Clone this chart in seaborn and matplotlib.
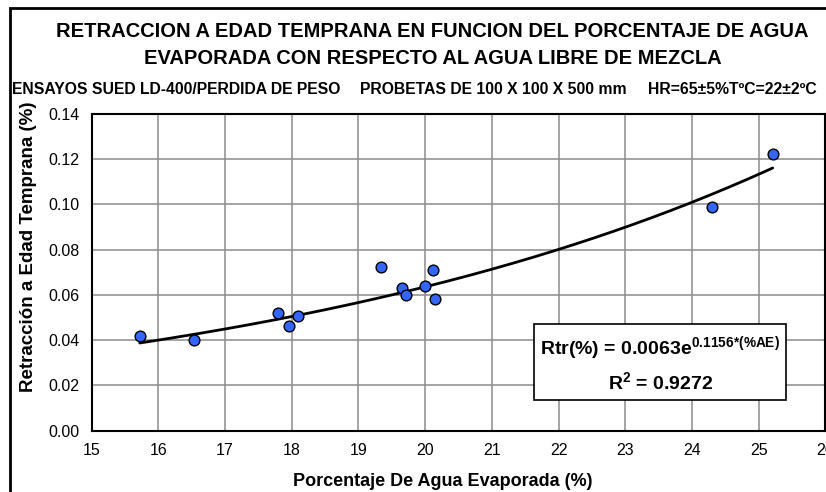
# Retraccion a edad temprana vs porcentaje de agua evaporada

import numpy as np
import pandas as pd
import matplotlib
matplotlib.use('Agg')
import matplotlib.pyplot as plt
import seaborn as sns

sns.set_style('white')
plt.rcParams['font.family'] = ['Liberation Sans', 'DejaVu Sans']
plt.rcParams['mathtext.fontset'] = 'custom'
plt.rcParams['mathtext.rm'] = 'Liberation Sans'
plt.rcParams['mathtext.bf'] = 'Liberation Sans:bold'
plt.rcParams['text.color'] = 'black'
plt.rcParams['axes.labelcolor'] = 'black'
plt.rcParams['xtick.color'] = 'black'
plt.rcParams['ytick.color'] = 'black'

# Datos
agua_evaporada = [15.72, 16.54, 17.80, 17.96, 18.10, 19.34, 19.65, 19.71,
                  19.99, 20.11, 20.14, 24.30, 25.21]
retraccion = [0.0419, 0.0403, 0.0522, 0.0462, 0.0509, 0.0725, 0.0630, 0.0599,
              0.0641, 0.0709, 0.0581, 0.0989, 0.1224]

# Linea de tendencia exponencial (coeficientes del grafico)
coef_a = 0.0063
coef_b = 0.1156

x_ticks = [15, 16, 17, 18, 19, 20, 21, 22, 23, 24, 25, 26]
y_ticks = [0.00, 0.02, 0.04, 0.06, 0.08, 0.10, 0.12, 0.14]

df = pd.DataFrame({'ae': agua_evaporada, 'rtr': retraccion})
x_fit = np.linspace(min(agua_evaporada), max(agua_evaporada), 200)
df_fit = pd.DataFrame({'ae': x_fit, 'rtr': coef_a * np.exp(coef_b * x_fit)})

fig = plt.figure(figsize=(8.26, 4.92), dpi=100)
ax = fig.add_axes([0.111, 0.1246, 0.8883, 0.6437])

sns.lineplot(data=df_fit, x='ae', y='rtr', ax=ax, color='black', linewidth=2, zorder=3)
sns.scatterplot(data=df, x='ae', y='rtr', ax=ax, s=60, color='#3366FF',
                edgecolor='black', linewidth=1, zorder=4)

ax.set_xlim(15, 26)
ax.set_ylim(0, 0.14)
ax.set_xticks(x_ticks)
ax.set_yticks(y_ticks)
ax.set_yticklabels([f'{v:.2f}' for v in y_ticks])
ax.grid(True, color='#8c8c8c', linewidth=1.1)
ax.set_axisbelow(True)
for s in ax.spines.values():
    s.set_color('black')
    s.set_linewidth(1.5)
ax.tick_params(axis='both', direction='out', length=5, width=1.2,
               labelsize=11.5, pad=4)

ax.set_xlabel('Porcentaje De Agua Evaporada (%)', fontsize=13, fontweight='bold')
ax.set_ylabel('Retracción a Edad Temprana (%)', fontsize=13.5, fontweight='bold')
ax.xaxis.set_label_coords(0.479, -0.132)
ax.yaxis.set_label_coords(-0.075, 0.58)

# Cuadro con la ecuacion
caja = plt.Rectangle((0.603, 0.097), 0.343, 0.240, transform=ax.transAxes,
                     facecolor='white', edgecolor='black', linewidth=1.2, zorder=5)
ax.add_patch(caja)
ax.text(0.775, 0.258, r'Rtr(%) = 0.0063e$^{\mathbf{0.1156{*}(\%AE)}}$',
        transform=ax.transAxes, ha='center', va='center', fontsize=14,
        fontweight='bold', zorder=6)
ax.text(0.775, 0.152, r'R$^{\mathbf{2}}$ = 0.9272', transform=ax.transAxes,
        ha='center', va='center', fontsize=14, fontweight='bold', zorder=6)

# Titulos
fig.text(0.523, 0.935, 'RETRACCION A EDAD TEMPRANA EN FUNCION DEL PORCENTAJE DE AGUA',
         ha='center', va='center', fontsize=14.5, fontweight='bold')
fig.text(0.524, 0.882, 'EVAPORADA CON RESPECTO AL AGUA LIBRE DE MEZCLA',
         ha='center', va='center', fontsize=14.5, fontweight='bold')
fig.text(0.015, 0.818, 'ENSAYOS SUED LD-400/PERDIDA DE PESO', ha='left', va='center',
         fontsize=11.3, fontweight='bold')
fig.text(0.436, 0.818, 'PROBETAS DE 100 X 100 X 500 mm', ha='left', va='center',
         fontsize=11.3, fontweight='bold')
fig.text(0.785, 0.818, 'HR=65±5%TºC=22±2ºC', ha='left', va='center',
         fontsize=11.3, fontweight='bold')

# Marco exterior
marco = plt.Rectangle((0.012, -0.05), 1.1, 1.034, transform=fig.transFigure,
                      fill=False, edgecolor='black', linewidth=2)
fig.patches.append(marco)

fig.savefig('out.png', dpi=100)
